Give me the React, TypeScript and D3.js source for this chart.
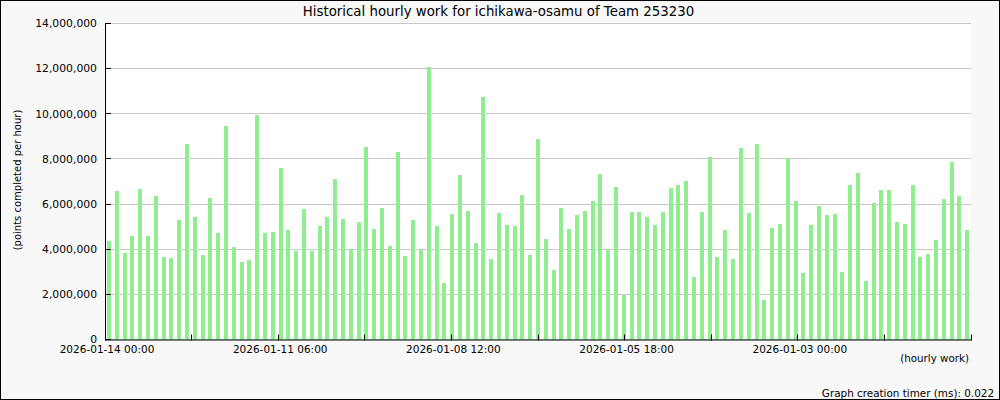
import React from "react";
import * as d3 from "d3";

const title = "Historical hourly work for ichikawa-osamu of Team 253230";
const yAxisTitle = "(points completed per hour)";
const xAxisTitle = "(hourly work)";
const footer = "Graph creation timer (ms): 0.022";

const values: number[] = [
  4380000, 6590000, 3850000, 4600000, 6680000, 4600000, 6370000, 3670000, 3630000, 5310000,
  8670000, 5440000, 3760000, 6280000, 4730000, 9460000, 4110000, 3450000, 3540000, 9950000,
  4730000, 4780000, 7600000, 4860000, 3940000, 5790000, 3940000, 5040000, 5440000, 7120000,
  5350000, 4010000, 5220000, 8530000, 4910000, 5840000, 4160000, 8310000, 3710000, 5310000,
  4010000, 12070000, 5040000, 2520000, 5570000, 7300000, 5700000, 4290000, 10740000, 3580000,
  5620000, 5080000, 5040000, 6410000, 3760000, 8890000, 4470000, 3100000, 5840000, 4910000,
  5530000, 5700000, 6150000, 7340000, 3980000, 6760000, 1970000, 5660000, 5660000, 5440000,
  5080000, 5660000, 6720000, 6850000, 7030000, 2790000, 5660000, 8090000, 3670000, 4860000,
  3580000, 8490000, 5620000, 8670000, 1770000, 4950000, 5130000, 8050000, 6150000, 2960000,
  5080000, 5920000, 5530000, 5570000, 3010000, 6850000, 7380000, 2610000, 6060000, 6630000,
  6630000, 5220000, 5130000, 6850000, 3670000, 3800000, 4420000, 6230000, 7870000, 6370000,
  4860000,
];

const xTickLabels: string[] = [
  "2026-01-14 00:00",
  "2026-01-11 06:00",
  "2026-01-08 12:00",
  "2026-01-05 18:00",
  "2026-01-03 00:00",
];
const xTickCount = 10; // intervals
const yTicks: number[] = [0, 2000000, 4000000, 6000000, 8000000, 10000000, 12000000, 14000000];

export default function App() {
  const W = 1000, H = 400;
  const left = 105, right = 971, top = 23.5, bottom = 339.5;
  const font = "DejaVu Sans, Verdana, sans-serif";

  const x = d3
    .scaleBand<number>()
    .domain(values.map((_, i) => i))
    .range([left, right])
    .paddingInner(0.5)
    .paddingOuter(0.25);
  const y = d3.scaleLinear().domain([0, 14000000]).range([bottom, top]);
  const xt = d3.scaleLinear().domain([0, xTickCount]).range([left, right]);
  const fmt = d3.format(",");
  const crisp = (v: number) => Math.round(v - 0.5) + 0.5;

  return (
    <svg
      width={W}
      height={H}
      style={{ position: "absolute", left: 0, top: 0, fontFamily: font }}
    >
      <rect x={0.5} y={0.5} width={W - 1} height={H - 1} fill="#f8f8f8" stroke="#000" />
      <rect x={left} y={top} width={right - left} height={bottom - top} fill="#ffffff" />
      {yTicks.map((t) => (
        <line
          key={"g" + t}
          x1={left}
          x2={right}
          y1={crisp(y(t))}
          y2={crisp(y(t))}
          stroke="#c8c8c8"
          strokeWidth={1}
        />
      ))}
      <g shapeRendering="crispEdges">
        {values.map((v, i) => (
          <rect
            key={i}
            x={Math.round(x(i)!)}
            y={y(v)}
            width={4}
            height={bottom - y(v)}
            fill="#90ee90"
          />
        ))}
      </g>
      {/* axes */}
      <line x1={left + 0.5} x2={left + 0.5} y1={top} y2={bottom + 0.5} stroke="#000" />
      <line x1={left} x2={right} y1={bottom + 0.5} y2={bottom + 0.5} stroke="#000" />
      {yTicks.map((t) => (
        <g key={"yt" + t}>
          <line x1={left} x2={left + 6} y1={crisp(y(t))} y2={crisp(y(t))} stroke="#000" />
          <text
            x={97}
            y={y(t)}
            dy="0.35em"
            textAnchor="end"
            fontSize={10.8}
            fill="#000"
          >
            {fmt(t)}
          </text>
        </g>
      ))}
      {d3.range(0, xTickCount + 1).map((k) => (
        <g key={"xt" + k}>
          <line
            x1={crisp(xt(k))}
            x2={crisp(xt(k))}
            y1={bottom - 5}
            y2={bottom + 1}
            stroke="#000"
          />
          {k % 2 === 0 && xTickLabels[k / 2] ? (
            <text x={xt(k) + 2} y={352.5} textAnchor="middle" fontSize={10.5} fill="#000">
              {xTickLabels[k / 2]}
            </text>
          ) : null}
        </g>
      ))}
      <text x={498.5} y={16} textAnchor="middle" fontSize={13.33} fill="#000">
        {title}
      </text>
      <text
        transform="translate(21,180) rotate(-90)"
        textAnchor="middle"
        fontSize={10}
        fill="#000"
      >
        {yAxisTitle}
      </text>
      <text x={969} y={362} textAnchor="end" fontSize={10.3} fill="#000">
        {xAxisTitle}
      </text>
      <text x={994} y={397} textAnchor="end" fontSize={10.4} fill="#000">
        {footer}
      </text>
    </svg>
  );
}
